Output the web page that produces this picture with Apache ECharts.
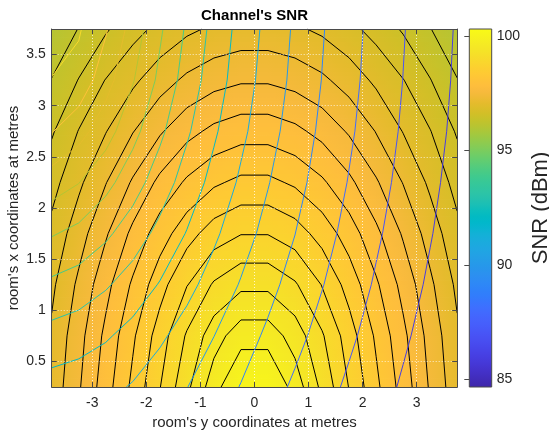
<!DOCTYPE html>
<html>
<head>
<meta charset="utf-8">
<title>Channel's SNR</title>
<script src="https://cdn.jsdelivr.net/npm/echarts@6/dist/echarts.min.js"></script>
<style>
  html, body { margin: 0; padding: 0; background: #ffffff; }
  #chart { width: 549px; height: 432px; }
</style>
</head>
<body>
<div id="chart"></div>
<script>
// Grid of the room: horizontal axis = room's y coordinate, vertical axis = room's x coordinate (metres)
const roomY = [-3.75, -3.25, -2.75, -2.25, -1.75, -1.25, -0.75, -0.25, 0.25, 0.75, 1.25, 1.75, 2.25, 2.75, 3.25, 3.75];
const roomX = [0.25, 0.75, 1.25, 1.75, 2.25, 2.75, 3.25, 3.75];

// Channel SNR (dBm), one row per roomX value (bottom to top), one column per roomY value
const snr = [
  [97.09, 97.47, 97.89, 98.31, 98.74, 99.19, 99.64, 100.05, 100.05, 99.64, 99.19, 98.74, 98.31, 97.89, 97.47, 97.09],
  [97.04, 97.41, 97.81, 98.21, 98.62, 99.03, 99.39, 99.64, 99.64, 99.39, 99.03, 98.62, 98.21, 97.81, 97.41, 97.04],
  [96.95, 97.30, 97.67, 98.04, 98.40, 98.74, 99.03, 99.19, 99.19, 99.03, 98.74, 98.40, 98.04, 97.67, 97.30, 96.95],
  [96.82, 97.14, 97.47, 97.81, 98.13, 98.40, 98.62, 98.74, 98.74, 98.62, 98.40, 98.13, 97.81, 97.47, 97.14, 96.82],
  [96.66, 96.95, 97.24, 97.53, 97.81, 98.04, 98.21, 98.31, 98.31, 98.21, 98.04, 97.81, 97.53, 97.24, 96.95, 96.66],
  [96.47, 96.76, 96.99, 97.24, 97.47, 97.67, 97.81, 97.89, 97.89, 97.81, 97.67, 97.47, 97.24, 96.99, 96.76, 96.47],
  [96.26, 96.51, 96.76, 96.95, 97.14, 97.30, 97.41, 97.47, 97.47, 97.41, 97.30, 97.14, 96.95, 96.76, 96.51, 96.26],
  [96.03, 96.26, 96.47, 96.66, 96.82, 96.95, 97.04, 97.09, 97.09, 97.04, 96.95, 96.82, 96.66, 96.47, 96.26, 96.03]
];

// Second SNR field (dBm) on the same grid, drawn as coloured contour lines
const overlay = [
  [91.61, 91.45, 91.25, 90.92, 90.48, 90.02, 89.48, 88.96, 88.38, 87.85, 87.34, 86.84, 86.36, 85.89, 85.43, 84.67],
  [92.65, 92.45, 92.11, 91.67, 91.16, 90.60, 90.01, 89.42, 88.84, 88.26, 87.70, 87.16, 86.64, 86.14, 85.66, 85.20],
  [93.80, 93.54, 93.11, 92.56, 91.94, 91.28, 90.60, 89.93, 89.28, 88.64, 88.04, 87.46, 86.90, 86.37, 85.87, 85.38],
  [95.08, 94.73, 94.18, 93.49, 92.73, 91.95, 91.17, 90.41, 89.69, 89.01, 88.34, 87.72, 87.13, 86.58, 86.05, 85.55],
  [96.51, 96.03, 95.30, 94.43, 93.50, 92.58, 91.69, 90.85, 90.05, 89.31, 88.61, 87.95, 87.33, 86.75, 86.20, 85.68],
  [98.05, 97.38, 96.41, 95.31, 94.21, 93.14, 92.14, 91.22, 90.36, 89.56, 88.82, 88.14, 87.49, 86.89, 86.33, 85.79],
  [98.95, 98.67, 97.41, 96.07, 94.78, 93.58, 92.49, 91.49, 90.58, 89.75, 88.98, 88.27, 87.61, 86.99, 86.41, 85.87],
  [99.75, 99.10, 98.11, 96.57, 95.15, 93.86, 92.70, 91.66, 90.72, 89.86, 89.07, 88.35, 87.68, 87.05, 86.46, 85.92]
];

// Contour levels (dBm)
const snrLevels = [99.75, 99.5, 99.25, 99, 98.75, 98.5, 98.25, 98, 97.75, 97.5, 97.25, 97, 96.75, 96.5, 96.25];
const overlayLevels = [99, 98, 97, 96, 95, 94, 93, 92, 91, 90, 89, 88, 87, 86];

// Tick values
const xTicks = [-3, -2, -1, 0, 1, 2, 3];
const yTicks = [0.5, 1, 1.5, 2, 2.5, 3, 3.5];
const colorTicks = [85, 90, 95, 100];
const colorLimits = [84.67, 100.31];

// parula colormap, 64 entries
const parula = [
  '#3e26a8','#402ab4','#422ec0','#4432cb','#4537d5','#463cde','#4741e5','#4747eb',
  '#484df0','#4852f4','#4758f8','#465efb','#4563fd','#4269fe','#3e6fff','#3875fe',
  '#327cfc','#2f81fa','#2e87f7','#2d8cf3','#2b91ef','#2796eb','#259be8','#23a0e5',
  '#20a5e3','#1ca9df','#18addb','#12b1d6','#08b5d0','#01b8ca','#02bac3','#0bbdbd',
  '#19bfb6','#24c1ae','#2cc4a7','#31c69f','#37c897','#3fca8e','#4acb84','#57cc7a',
  '#64cd6f','#72cd64','#81cc59','#8fcb4e','#9dc943','#abc739','#b9c431','#c5c22a',
  '#d1bf27','#dcbd29','#e6bb2d','#f0ba36','#f8ba3d','#febe3c','#fec338','#fec934',
  '#fccf30','#fad62d','#f7dc2a','#f5e327','#f5e924','#f6ef20','#f7f51b','#f9fb15'
];

const FONT = "'Liberation Sans', Helvetica, Arial, sans-serif";
const TEXT = '#262626';
const AXIS = '#4a4a4a';

const parulaRgb = parula.map(h => [parseInt(h.slice(1, 3), 16), parseInt(h.slice(3, 5), 16), parseInt(h.slice(5, 7), 16)]);

function cmap(v) {
  let t = (v - colorLimits[0]) / (colorLimits[1] - colorLimits[0]);
  t = Math.max(0, Math.min(1, t));
  const f = t * (parulaRgb.length - 1);
  const k = Math.min(parulaRgb.length - 2, Math.floor(f));
  const u = f - k;
  const a = parulaRgb[k], b = parulaRgb[k + 1];
  return 'rgb(' + Math.round(a[0] + (b[0] - a[0]) * u) + ',' +
    Math.round(a[1] + (b[1] - a[1]) * u) + ',' + Math.round(a[2] + (b[2] - a[2]) * u) + ')';
}

// Marching squares: contour segments of grid z at one level
function contourSegments(z, xs, ys, level) {
  const segs = [];
  for (let j = 0; j < ys.length - 1; j++) {
    for (let i = 0; i < xs.length - 1; i++) {
      const v00 = z[j][i], v10 = z[j][i + 1], v01 = z[j + 1][i], v11 = z[j + 1][i + 1];
      const pts = [];
      const edge = (a, b, x0, y0, x1, y1, k) => {
        if ((a > level) !== (b > level)) {
          const t = (level - a) / (b - a);
          pts.push({ k: k, x: x0 + t * (x1 - x0), y: y0 + t * (y1 - y0) });
        }
      };
      edge(v00, v10, xs[i], ys[j], xs[i + 1], ys[j], 'h' + i + '_' + j);             // bottom
      edge(v10, v11, xs[i + 1], ys[j], xs[i + 1], ys[j + 1], 'v' + (i + 1) + '_' + j); // right
      edge(v01, v11, xs[i], ys[j + 1], xs[i + 1], ys[j + 1], 'h' + i + '_' + (j + 1)); // top
      edge(v00, v01, xs[i], ys[j], xs[i], ys[j + 1], 'v' + i + '_' + j);             // left
      if (pts.length === 2) {
        segs.push([pts[0], pts[1]]);
      } else if (pts.length === 4) {
        const c = (v00 + v10 + v01 + v11) / 4;
        if ((c > level) === (v00 > level)) {
          segs.push([pts[0], pts[1]]); segs.push([pts[2], pts[3]]);
        } else {
          segs.push([pts[0], pts[3]]); segs.push([pts[1], pts[2]]);
        }
      }
    }
  }
  return segs;
}

// Join segments that share grid-edge crossings into polylines
function chainSegments(segs) {
  const byKey = new Map();
  segs.forEach((s, idx) => s.forEach(p => {
    if (!byKey.has(p.k)) byKey.set(p.k, []);
    byKey.get(p.k).push(idx);
  }));
  const used = new Array(segs.length).fill(false);
  const lines = [];
  const walk = (startIdx, startKey) => {
    const first = segs[startIdx].find(p => p.k === startKey);
    const line = [[first.x, first.y]];
    let idx = startIdx, key = startKey;
    while (idx !== -1 && !used[idx]) {
      used[idx] = true;
      const s = segs[idx];
      const other = s[0].k === key ? s[1] : s[0];
      line.push([other.x, other.y]);
      key = other.k;
      const next = (byKey.get(key) || []).find(n => !used[n]);
      idx = next === undefined ? -1 : next;
    }
    return line;
  };
  segs.forEach((s, idx) => {
    if (used[idx]) return;
    for (const p of s) {
      if (byKey.get(p.k).length === 1) { lines.push(walk(idx, p.k)); return; }
    }
  });
  segs.forEach((s, idx) => { if (!used[idx]) lines.push(walk(idx, s[0].k)); });
  return lines;
}

function contourSeries(z, levels, colorOf, zIndex) {
  const out = [];
  levels.forEach(level => {
    chainSegments(contourSegments(z, roomY, roomX, level)).forEach(line => {
      out.push({
        type: 'line', xAxisIndex: 0, yAxisIndex: 0, data: line,
        showSymbol: false, symbol: 'none', silent: true, animation: false,
        clip: true, z: zIndex,
        lineStyle: { color: colorOf(level), width: 1 }
      });
    });
  });
  return out;
}

// Surface cells between grid nodes, shaded from the node values
const cells = [];
for (let j = 0; j < roomX.length - 1; j++) {
  for (let i = 0; i < roomY.length - 1; i++) {
    cells.push([(roomY[i] + roomY[i + 1]) / 2, (roomX[j] + roomX[j + 1]) / 2, i, j]);
  }
}

function renderCell(params, api) {
  const i = api.value(2), j = api.value(3);
  const x0 = roomY[i], x1 = roomY[i + 1], y0 = roomX[j], y1 = roomX[j + 1];
  const z00 = snr[j][i], z10 = snr[j][i + 1], z01 = snr[j + 1][i], z11 = snr[j + 1][i + 1];
  const strips = 12;
  const left = api.coord([x0, y0])[0], right = api.coord([x1, y0])[0];
  const children = [];
  for (let s = 0; s < strips; s++) {
    const ya = y0 + (y1 - y0) * s / strips;
    const yb = y0 + (y1 - y0) * (s + 1) / strips;
    const tm = (s + 0.5) / strips;
    const zl = z00 + (z01 - z00) * tm, zr = z10 + (z11 - z10) * tm;
    const top = api.coord([x0, yb])[1], bottom = api.coord([x0, ya])[1];
    const stops = [0, 0.25, 0.5, 0.75, 1].map(f => ({ offset: f, color: cmap(zl + (zr - zl) * f) }));
    children.push({
      type: 'rect',
      shape: { x: left - 0.4, y: top - 0.4, width: right - left + 0.8, height: bottom - top + 0.8 },
      style: { fill: new echarts.graphic.LinearGradient(0, 0, 1, 0, stops) }
    });
  }
  return { type: 'group', children: children };
}

function renderColorbar(params, api) {
  const p0 = api.coord([0, colorLimits[0]]);
  const p1 = api.coord([1, colorLimits[1]]);
  const stops = parula.map((c, k) => ({ offset: k / (parula.length - 1), color: c }));
  return {
    type: 'rect',
    shape: { x: p0[0], y: p1[1], width: p1[0] - p0[0], height: p0[1] - p1[1] },
    style: { fill: new echarts.graphic.LinearGradient(0, 1, 0, 0, stops), stroke: AXIS, lineWidth: 1 }
  };
}

const gridLine = { show: true, lineStyle: { color: 'rgba(255,255,255,0.75)', type: [1, 2], width: 1 } };
const edgeLine = { show: true, onZero: false, lineStyle: { color: AXIS, width: 1 } };

const option = {
  animation: false,
  backgroundColor: '#ffffff',
  textStyle: { fontFamily: FONT },
  graphic: [{
    type: 'text', x: 254.5, y: 15.5,
    style: { text: "Channel's SNR", font: 'bold 15px ' + FONT, fill: '#000000', textAlign: 'center', textVerticalAlign: 'middle' }
  }],
  grid: [
    { left: 51.7, top: 29, width: 405.5, height: 358, outerBoundsMode: 'none', containLabel: false },
    { left: 469.3, top: 29, width: 22.4, height: 358, outerBoundsMode: 'none', containLabel: false }
  ],
  xAxis: [
    {
      gridIndex: 0, type: 'value', position: 'bottom', min: -3.75, max: 3.75, z: 10,
      axisLine: edgeLine,
      axisTick: { show: true, inside: true, length: 5, customValues: xTicks, lineStyle: { color: AXIS } },
      axisLabel: { show: true, customValues: xTicks, fontSize: 14, color: TEXT, margin: 9 },
      splitLine: gridLine,
      name: "room's y coordinates at metres", nameLocation: 'middle', nameGap: 28, nameMoveOverlap: false,
      nameTextStyle: { fontSize: 15, color: TEXT }
    },
    {
      gridIndex: 0, type: 'value', position: 'top', min: -3.75, max: 3.75, z: 10,
      axisLine: edgeLine,
      axisTick: { show: true, inside: true, length: 5, customValues: xTicks, lineStyle: { color: AXIS } },
      axisLabel: { show: false }, splitLine: { show: false }
    },
    { gridIndex: 1, type: 'value', min: 0, max: 1, show: false }
  ],
  yAxis: [
    {
      gridIndex: 0, type: 'value', position: 'left', min: 0.25, max: 3.75, z: 10,
      axisLine: edgeLine,
      axisTick: { show: true, inside: true, length: 5, customValues: yTicks, lineStyle: { color: AXIS } },
      axisLabel: { show: true, customValues: yTicks, fontSize: 14, color: TEXT, margin: 6 },
      splitLine: gridLine,
      name: "room's x coordinates at metres", nameLocation: 'middle', nameGap: 30, nameRotate: 90,
      nameMoveOverlap: false,
      nameTextStyle: { fontSize: 15, color: TEXT }
    },
    {
      gridIndex: 0, type: 'value', position: 'right', min: 0.25, max: 3.75, z: 10,
      axisLine: edgeLine,
      axisTick: { show: true, inside: true, length: 5, customValues: yTicks, lineStyle: { color: AXIS } },
      axisLabel: { show: false }, splitLine: { show: false }
    },
    {
      gridIndex: 1, type: 'value', position: 'right', min: colorLimits[0], max: colorLimits[1], z: 10,
      axisLine: { show: false },
      axisTick: { show: true, inside: true, length: 5, customValues: colorTicks, lineStyle: { color: AXIS } },
      axisLabel: { show: true, customValues: colorTicks, fontSize: 14, color: TEXT, margin: 5 },
      splitLine: { show: false },
      name: 'SNR (dBm)', nameLocation: 'middle', nameGap: 38, nameRotate: 90, nameMoveOverlap: false,
      nameTextStyle: { fontSize: 22, color: TEXT }
    }
  ],
  series: [
    {
      type: 'custom', xAxisIndex: 0, yAxisIndex: 0, data: cells, renderItem: renderCell,
      clip: true, silent: true, animation: false, z: 1
    },
    {
      type: 'custom', xAxisIndex: 2, yAxisIndex: 2,
      data: [[0.5, (colorLimits[0] + colorLimits[1]) / 2]], renderItem: renderColorbar,
      silent: true, animation: false, z: 1
    }
  ]
    .concat(contourSeries(snr, snrLevels, () => '#000000', 3))
    .concat(contourSeries(overlay, overlayLevels, cmap, 4))
};

const chart = echarts.init(document.getElementById('chart'), null, { renderer: 'canvas' });
chart.setOption(option);
</script>
</body>
</html>
